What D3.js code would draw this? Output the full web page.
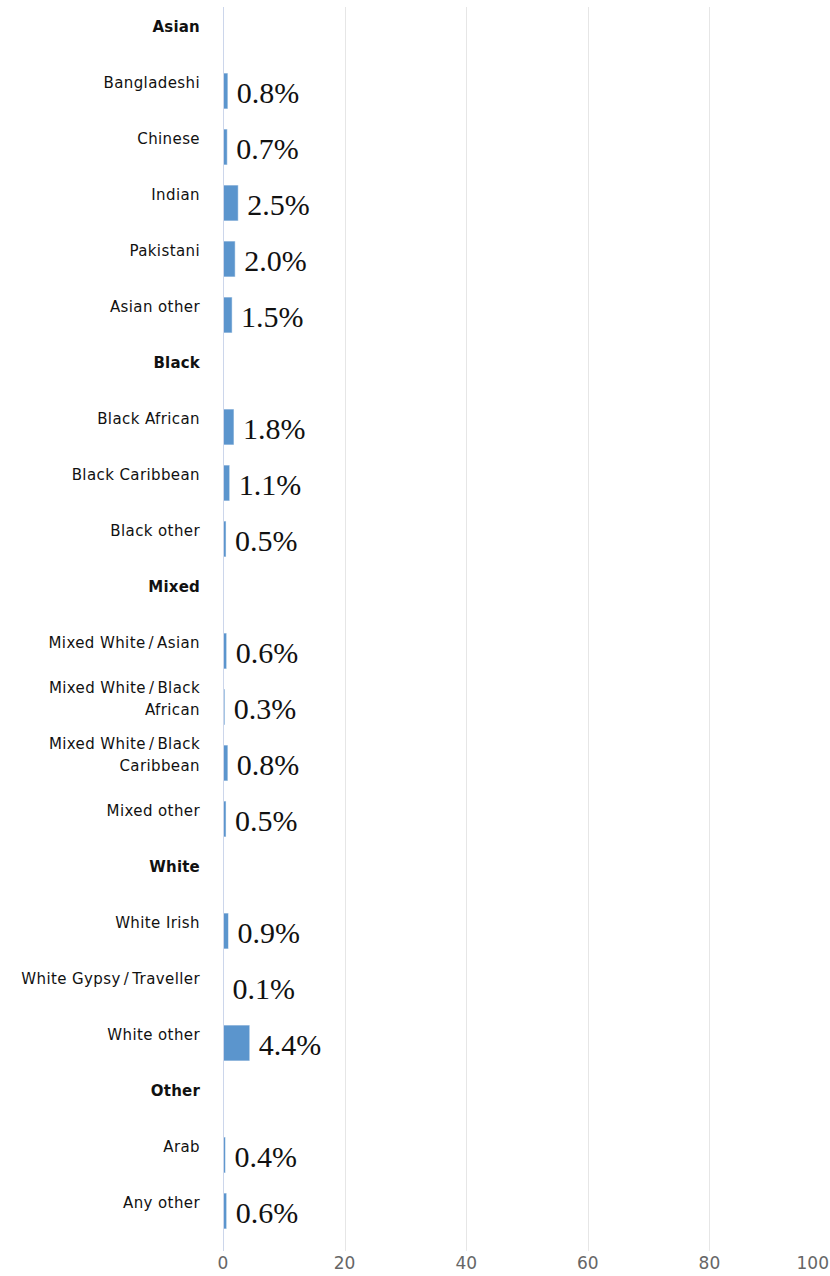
<!DOCTYPE html>
<html>
<head>
<meta charset="utf-8">
<script src="https://cdn.jsdelivr.net/npm/d3@7"></script>
<style>
  html, body { margin: 0; padding: 0; background: #fff; }
  svg { display: block; }
</style>
</head>
<body>
<svg id="chart" width="830" height="1276"></svg>
<script>
// ---- data ----
const categories = [
  "Asian", "Bangladeshi", "Chinese", "Indian", "Pakistani", "Asian other",
  "Black", "Black African", "Black Caribbean", "Black other",
  "Mixed", "Mixed White/Asian", "Mixed White/Black African", "Mixed White/Black Caribbean", "Mixed other",
  "White", "White Irish", "White Gypsy/Traveller", "White other",
  "Other", "Arab", "Any other"
];
const groupHeaders = ["Asian", "Black", "Mixed", "White", "Other"];
const values = [
  null, 0.8, 0.7, 2.5, 2.0, 1.5,
  null, 1.8, 1.1, 0.5,
  null, 0.6, 0.3, 0.8, 0.5,
  null, 0.9, 0.1, 4.4,
  null, 0.4, 0.6
];
const labelLines = {
  "Mixed White/Black African": ["Mixed White/Black", "African"],
  "Mixed White/Black Caribbean": ["Mixed White/Black", "Caribbean"]
};
const xTicks = [0, 20, 40, 60, 80, 100];

(function () {
// ---- layout ----
const svg = d3.select("#chart");
const mLeft = 223, mRight = 831, mTop = 7, bandH = 56;
const mBottom = mTop + bandH * categories.length;

const x = d3.scaleLinear().domain([0, 100]).range([mLeft, mRight]);
const y = d3.scaleBand().domain(categories).range([mTop, mBottom]).paddingInner(0.36).paddingOuter(0.18);

// gridlines
svg.append("g").selectAll("line").data(xTicks.filter(d => d > 0)).join("line")
  .attr("x1", d => Math.round(x(d)) + 0.5).attr("x2", d => Math.round(x(d)) + 0.5)
  .attr("y1", mTop).attr("y2", 1251)
  .attr("stroke", "#e6e6e6").attr("stroke-width", 1);

// bars
const rows = categories.map((c, i) => ({ c, v: values[i] })).filter(d => d.v != null);
svg.append("g").selectAll("rect").data(rows).join("rect")
  .attr("x", x(0))
  .attr("y", d => y(d.c))
  .attr("width", d => x(d.v) - x(0))
  .attr("height", y.bandwidth())
  .attr("fill", "#5b95cd")
  .attr("stroke", "rgba(255,255,255,0.5)")
  .attr("stroke-width", 1);

// zero axis line
svg.append("line")
  .attr("x1", mLeft + 0.5).attr("x2", mLeft + 0.5)
  .attr("y1", mTop).attr("y2", 1251)
  .attr("stroke", "#ccd6eb").attr("stroke-width", 1);

// value labels
svg.append("g").selectAll("text").data(rows).join("text")
  .attr("x", d => x(d.v) + 9)
  .attr("y", d => y(d.c) + y.bandwidth() / 2 + 1)
  .attr("dy", "0.35em")
  .attr("font-family", "'Liberation Serif', 'Times New Roman', serif")
  .attr("font-size", 30)
  .attr("fill", "#111")
  .text(d => d.v.toFixed(1) + "%");

// category labels
const catG = svg.append("g");
categories.forEach(c => {
  const lines = labelLines[c] || [c];
  const cy = y(c) + y.bandwidth() / 2 - 8;
  const lh = 22;
  const t = catG.append("text")
    .attr("text-anchor", "end")
    .attr("font-family", "'DejaVu Sans', sans-serif")
    .attr("font-size", 15)
    .attr("letter-spacing", groupHeaders.includes(c) ? "0.2px" : "0.4px")
    .attr("font-weight", groupHeaders.includes(c) ? "bold" : "normal")
    .attr("fill", "#111");
  lines.forEach((ln, j) => {
    const ly = cy + (j - (lines.length - 1) / 2) * lh + 5;
    const parts = ln.split("/");
    parts.forEach((p, k) => {
      const ts = t.append("tspan");
      if (k === 0) ts.attr("x", 200).attr("y", ly);
      else ts.attr("dx", 3);
      ts.text(p);
      if (k < parts.length - 1) {
        t.append("tspan").attr("dx", 3).text("/");
      }
    });
  });
});

// x axis tick labels
svg.append("g").selectAll("text").data(xTicks).join("text")
  .attr("x", d => d === 100 ? 829 : x(d))
  .attr("y", 1263)
  .attr("dy", "0.35em")
  .attr("text-anchor", d => d === 100 ? "end" : "middle")
  .attr("font-family", "'DejaVu Sans', sans-serif")
  .attr("font-size", 17)
  .attr("fill", "#666")
  .text(d => d);
})();
</script>
</body>
</html>
